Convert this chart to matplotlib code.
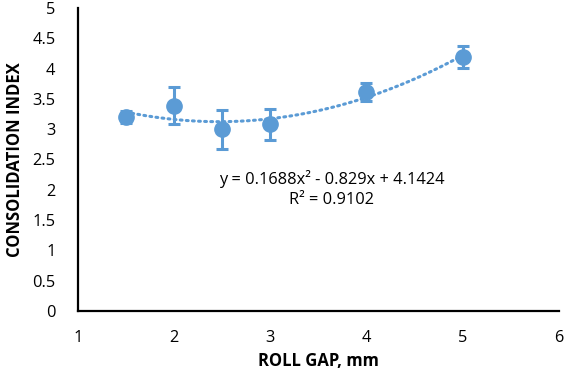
import matplotlib

matplotlib.use("Agg")

import matplotlib.pyplot as plt
import numpy as np

# data
roll_gap = [1.5, 2.0, 2.5, 3.0, 4.0, 5.0]
consolidation = [3.20, 3.39, 3.00, 3.08, 3.62, 4.19]
error = [0.10, 0.30, 0.32, 0.26, 0.15, 0.18]
x_ticks = [1, 2, 3, 4, 5, 6]
y_ticks = [0, 0.5, 1, 1.5, 2, 2.5, 3, 3.5, 4, 4.5, 5]
y_tick_labels = ["0", "0.5", "1", "1.5", "2", "2.5", "3", "3.5", "4", "4.5", "5"]
trend_label = "y = 0.1688x² - 0.829x + 4.1424\nR² = 0.9102"

BLUE = "#5B9BD5"
plt.rcParams["font.family"] = ["Open Sans", "DejaVu Sans"]

fig = plt.figure(figsize=(5.76, 3.81), dpi=100)
ax = fig.add_axes([0.135, 0.184, 0.835, 0.795])

# polynomial trendline fitted to the points
coef = np.polyfit(roll_gap, consolidation, 2)
xs = np.linspace(min(roll_gap), max(roll_gap), 200)
ax.plot(xs, np.polyval(coef, xs), linestyle=(0, (0.6, 1.4)), color=BLUE,
        linewidth=2.2, dash_capstyle="round", zorder=2)

ax.errorbar(roll_gap, consolidation, yerr=error, fmt="o", color=BLUE,
            markersize=11, elinewidth=2.2, capsize=4, capthick=2.2, zorder=3)

ax.text(3.64, 2.01, trend_label, ha="center", va="center", fontsize=11.8,
        linespacing=1.3)

ax.set_xlim(1, 6)
ax.set_ylim(0, 5)
ax.set_xticks(x_ticks)
ax.set_yticks(y_ticks)
ax.set_yticklabels(y_tick_labels)
ax.tick_params(length=0, labelsize=11.8)
ax.tick_params(axis="y", pad=16)
ax.tick_params(axis="x", pad=14)
for side in ["top", "right"]:
    ax.spines[side].set_visible(False)
for side in ["left", "bottom"]:
    ax.spines[side].set_linewidth(1.6)
    ax.spines[side].set_color("black")

ax.set_xlabel("ROLL GAP, mm", fontsize=12, fontweight="bold", labelpad=4)
ax.set_ylabel("CONSOLIDATION INDEX", fontsize=12, fontweight="bold", labelpad=6)

fig.savefig("out.png", dpi=100)
